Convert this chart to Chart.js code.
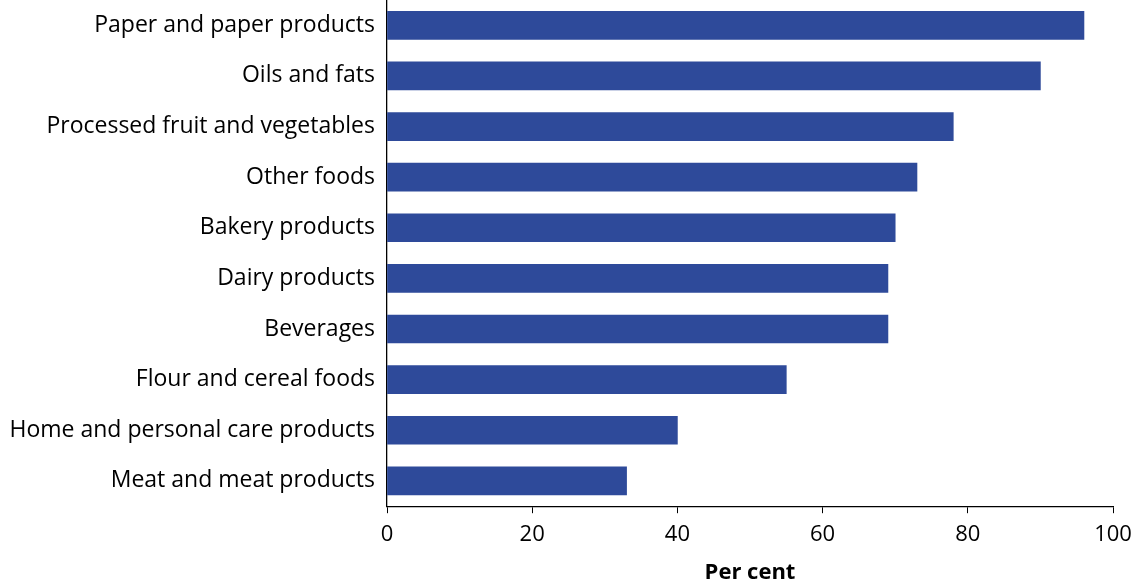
<!DOCTYPE html>
<html>
<head>
<meta charset="utf-8">
<script src="https://cdn.jsdelivr.net/npm/chart.js@4"></script>
<style>
  html, body { margin: 0; padding: 0; background: #fff; }
  #wrap { width: 1141px; height: 587px; }
</style>
</head>
<body>
<div id="wrap"><canvas id="chart" width="1141" height="587"></canvas></div>
<script>
// Data
var categories = ["Paper and paper products", "Oils and fats", "Processed fruit and vegetables",
  "Other foods", "Bakery products", "Dairy products", "Beverages",
  "Flour and cereal foods", "Home and personal care products", "Meat and meat products"];
var values = [96, 90, 78, 73, 70, 69, 69, 55, 40, 33];
var xTicks = [0, 20, 40, 60, 80, 100];

var fontFamily = "'Open Sans', 'Noto Sans', sans-serif";

var ctx = document.getElementById('chart');
var chart = new Chart(ctx, {
    type: 'bar',
    data: {
        labels: categories,
        datasets: [{
            data: values,
            backgroundColor: "#2E4A9A",
            borderWidth: 0,
            barThickness: 28
        }]
    },
    options: {
        indexAxis: 'y',
        responsive: false,
        animation: false,
        // plot area starts slightly above the canvas, like the original
        layout: { padding: { top: -2, right: 28, left: 0, bottom: 1 } },
        plugins: { legend: { display: false }, tooltip: { enabled: false } },
        scales: {
            x: {
                min: 0,
                max: 100,
                afterBuildTicks: function(axis) {
                    axis.ticks = xTicks.map(function(v) { return { value: v }; });
                },
                grid: { drawOnChartArea: false, drawTicks: true, tickLength: 7, color: '#000' },
                border: { display: true, color: '#000', width: 1.3 },
                ticks: { color: '#000', font: { family: fontFamily, size: 22 }, padding: 8, maxRotation: 0 },
                title: {
                    display: true,
                    text: 'Per cent',
                    color: '#000',
                    font: { family: fontFamily, size: 22, weight: 'bold' },
                    padding: { top: 4, bottom: 0 }
                }
            },
            y: {
                grid: { display: false, drawTicks: false },
                border: { display: true, color: '#000', width: 1.3 },
                ticks: { color: '#000', font: { family: fontFamily, size: 23 }, padding: 12 },
                afterFit: function(axis) {
                    axis.width = 387;
                    axis.paddingTop = -2;
                    axis.paddingBottom = 0;
                }
            }
        }
    }
});
</script>
</body>
</html>
